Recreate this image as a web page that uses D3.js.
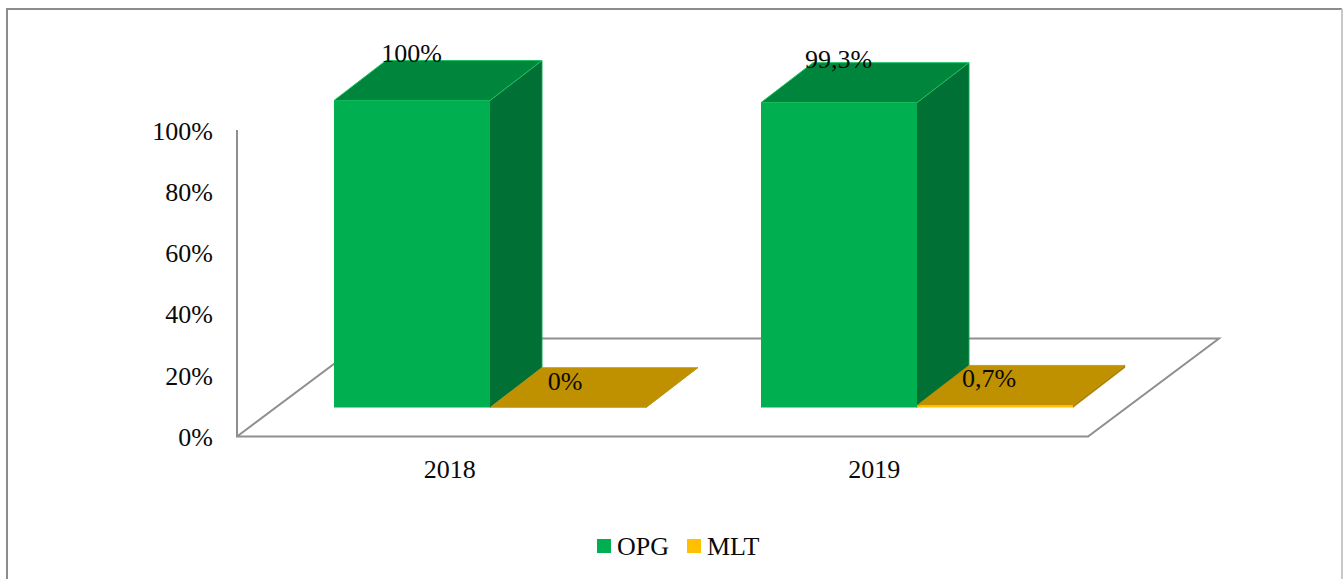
<!DOCTYPE html>
<html>
<head>
<meta charset="utf-8">
<script src="https://cdnjs.cloudflare.com/ajax/libs/d3/7.8.5/d3.min.js"></script>
<style>
html,body{margin:0;padding:0;background:#fff;overflow:hidden}
svg{display:block}
text{font-family:"Liberation Serif","Times New Roman",serif;font-size:26px;fill:#0a0a0a}
</style>
</head>
<body>
<svg id="c" width="1343" height="579"></svg>
<script>
const categories = ["2018", "2019"];
const seriesNames = ["OPG", "MLT"];
const opgValues = [100, 99.3];
const mltValues = [0, 0.7];
const opgLabels = ["100%", "99,3%"];
const mltLabels = ["0%", "0,7%"];
const tickValues = [0, 20, 40, 60, 80, 100];

const svg = d3.select("#c");
const frontLeft = 237, frontRight = 1088, floorY = 436.5, wallTop = 130;
const floorDx = 131, floorDy = -98;
const depthDx = 52, depthDy = -40;
const baseY = 407.5, barSpan = 307;

const color = {
  OPG: {front:"#00B050", side:"#007034", top:"#00853C", edge:"#1CC466"},
  MLT: {front:"#FFC000", side:"#A87E00", top:"#BF9000", edge:"#FFC000"}
};

// Border
svg.append("path")
  .attr("d", "M7,579V9H1342")
  .attr("fill", "none").attr("stroke", "#8c8c8c").attr("stroke-width", 2);
svg.append("path")
  .attr("d","M1342,9V579").attr("fill","none").attr("stroke","#c8c8c8").attr("stroke-width", 2);

// Scales
const yAxisScale = d3.scaleLinear().domain([0,100]).range([floorY, wallTop]);
const heightScale = d3.scaleLinear().domain([0,100]).range([0, barSpan]);
const xLabel = d3.scaleBand().domain(categories).range([frontLeft, frontRight]);
const xGroup = d3.scaleBand().domain(categories).range([276.5, 1130.5]).paddingInner(0.2693).paddingOuter(0.1347);
const xSeries = d3.scaleBand().domain(seriesNames).range([0, xGroup.bandwidth()]);

// Floor + wall
svg.append("path")
  .attr("d", `M${frontLeft},${wallTop}V${floorY}H${frontRight}L${frontRight+floorDx},${floorY+floorDy}H${frontLeft+floorDx}L${frontLeft},${floorY}`)
  .attr("fill", "none").attr("stroke", "#8f8f8f").attr("stroke-width", 2);

// Y axis tick labels
const yAxis = d3.axisLeft(yAxisScale).tickValues(tickValues).tickFormat(d => d + "%").tickSize(0).tickPadding(0);
const gy = svg.append("g").attr("transform", `translate(${frontLeft-24},0)`).call(yAxis);
gy.select(".domain").remove();
gy.selectAll("text").style("font-family", '"Liberation Serif",serif').style("font-size", "26px").style("fill", "#0a0a0a").attr("dy", 9).attr("x", 0);

// X axis labels
const xAxis = d3.axisBottom(xLabel).tickSize(0).tickPadding(0);
const gx = svg.append("g").attr("transform", `translate(0,478)`).call(xAxis);
gx.select(".domain").remove();
gx.selectAll("text").style("font-family", '"Liberation Serif",serif').style("font-size", "26px").style("fill", "#0a0a0a").attr("dy", 0).attr("y", 0)
  .attr("x", (d, i) => i === 0 ? 0 : -1);

function drawBar(cat, name, value) {
  const x0 = xGroup(cat) + xSeries(name), w = xSeries.bandwidth();
  const h = heightScale(value), top = baseY - h, c = color[name];
  const g = svg.append("g").attr("class", "bar");
  // side
  g.append("path").attr("d", `M${x0+w},${top}L${x0+w+depthDx},${top+depthDy}V${baseY+depthDy}L${x0+w},${baseY}Z`)
    .attr("fill", c.side).attr("stroke", c.side).attr("stroke-width", 0.5);
  // right edge highlight
  g.append("path").attr("d", `M${x0+w+depthDx},${top+depthDy}V${baseY+depthDy}`)
    .attr("stroke", c.edge).attr("stroke-width", name === "OPG" ? 1 : 0).attr("opacity", .6).attr("fill","none");
  // top
  g.append("path").attr("d", `M${x0},${top}L${x0+depthDx},${top+depthDy}H${x0+w+depthDx}L${x0+w},${top}Z`)
    .attr("fill", c.top).attr("stroke", name === "OPG" ? c.edge : c.top).attr("stroke-width", name === "OPG" ? 1 : 0.5);
  // front
  if (h > 0) {
    g.append("rect").attr("x", x0).attr("y", top).attr("width", w).attr("height", h).attr("fill", c.front);
  }
}

categories.forEach((cat, i) => {
  drawBar(cat, "OPG", opgValues[i]);
  drawBar(cat, "MLT", mltValues[i]);
});

// Data labels
categories.forEach((cat, i) => {
  const w = xSeries.bandwidth();
  const xo = xGroup(cat) + xSeries("OPG") + w / 2;
  const yo = baseY - heightScale(opgValues[i]);
  svg.append("text").attr("x", xo - 0.5).attr("y", yo + (i === 0 ? -38.5 : -35)).attr("text-anchor", "middle").text(opgLabels[i]);
  const xm = xGroup(cat) + xSeries("MLT") + w / 2;
  svg.append("text").attr("x", xm + (i === 0 ? -3 : -6)).attr("y", i === 0 ? 390 : 387).attr("text-anchor", "middle").text(mltLabels[i]);
});

// Legend
const legendX = d3.scaleOrdinal().domain(seriesNames).range([597, 687]);
seriesNames.forEach(name => {
  const x = legendX(name);
  svg.append("rect").attr("x", x).attr("y", 539).attr("width", 14).attr("height", 14).attr("fill", color[name].front);
  svg.append("text").attr("x", x + 20).attr("y", 555).text(name);
});
</script>
</body>
</html>
